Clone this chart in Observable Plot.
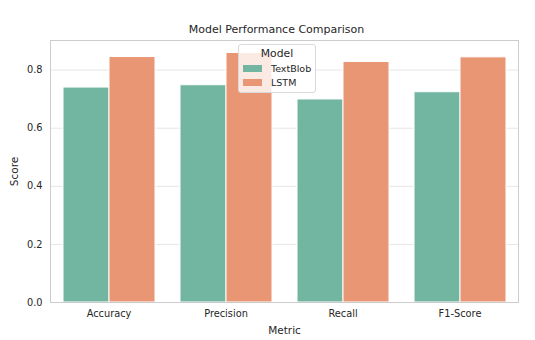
<!DOCTYPE html>
<html><head><meta charset="utf-8">
<script src="https://cdn.jsdelivr.net/npm/d3@7"></script>
<script src="https://cdn.jsdelivr.net/npm/@observablehq/plot@0.6"></script>
<style>
body{margin:0;background:#fff;font-family:"DejaVu Sans",sans-serif;}
#wrap{position:relative;width:535px;height:340px;}
#title{position:absolute;top:23px;left:0;width:553px;text-align:center;font-size:11px;color:#262626;}
#legend{position:absolute;left:238px;top:44px;width:78px;height:49px;box-sizing:border-box;border:1px solid #d9d9d9;border-radius:3px;background:rgba(255,255,255,0.8);font-size:9.5px;color:#262626;}
#legend .t{text-align:center;margin-top:1px;font-size:10.8px;line-height:15px;}
#legend .r{display:flex;align-items:center;height:14.3px;margin-left:4px;}
#legend .s{width:19px;height:7px;margin-right:9px;}
g[aria-label="y-axis label"], g[aria-label="fx-axis label"]{font-size:10.5px;}
g[aria-label="y-axis tick label"], g[aria-label="fx-axis tick label"]{font-size:9.8px;}
</style></head><body>
<div id="wrap"><div id="title"></div><div id="legend"></div></div>
<script>
const metrics = ["Accuracy","Precision","Recall","F1-Score"];
const models = ["TextBlob","LSTM"];
const textblob = [0.740,0.748,0.699,0.724];
const lstm = [0.845,0.859,0.828,0.844];
const yTicks = [0,0.2,0.4,0.6,0.8];
const colors = ["#72b6a1","#e99675"];
const titleText = "Model Performance Comparison";
const legendTitle = "Model";

const data = [];
metrics.forEach((m,i)=>{
  data.push({metric:m, model:models[0], score:textblob[i]});
  data.push({metric:m, model:models[1], score:lstm[i]});
});
const ymax = d3.max(lstm)*1.05;

const chart = Plot.plot({
  width:535, height:340,
  marginLeft:48, marginRight:16, marginTop:40, marginBottom:38,
  style:{fontFamily:"DejaVu Sans, sans-serif", fontSize:"10px", color:"#262626", background:"transparent"},
  fx:{domain:metrics, padding:0, label:"Metric", labelAnchor:"center", labelOffset:31, tickSize:0, tickPadding:8, axis:"bottom"},
  x:{domain:models, paddingOuter:0.25, paddingInner:0, axis:null},
  y:{domain:[0,ymax], ticks:yTicks, tickFormat:d3.format(".1f"), label:"Score", labelAnchor:"center", labelArrow:"none", labelOffset:40, tickSize:0, tickPadding:8},
  color:{domain:models, range:colors},
  marks:[
    Plot.ruleY(yTicks, {stroke:"#e6e6e6", strokeWidth:1}),
    Plot.barY(data, {fx:"metric", x:"model", y:"score", fill:"model", stroke:"white", strokeWidth:1}),
    Plot.frame({stroke:"#cccccc", strokeWidth:1, facet:"super"})
  ]
});
document.getElementById("wrap").appendChild(chart);
document.getElementById("title").textContent = titleText;
const lg = document.getElementById("legend");
lg.innerHTML = `<div class="t">${legendTitle}</div>` + models.map((m,i)=>`<div class="r"><span class="s" style="background:${colors[i]}"></span>${m}</div>`).join("");
</script>
</body></html>
